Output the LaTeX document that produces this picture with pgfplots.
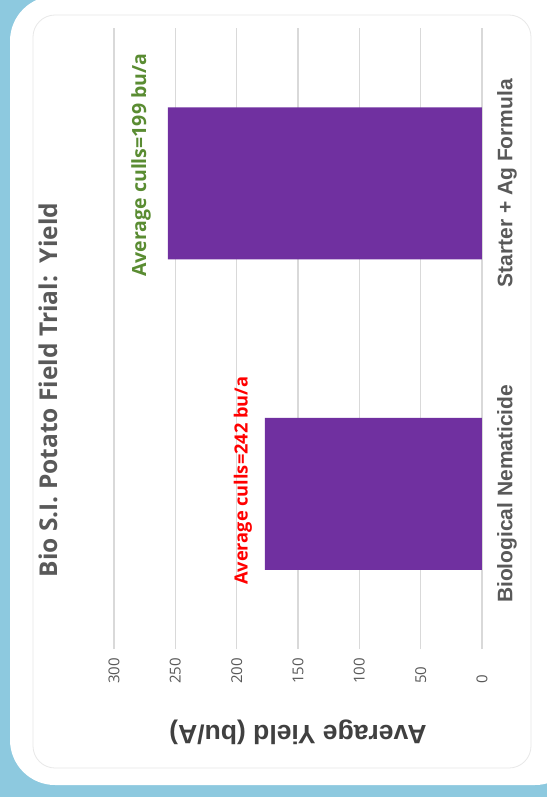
\documentclass[border=0pt]{standalone}
\usepackage{pgfplots}
\pgfplotsset{compat=1.18}
\usepackage{fontspec}
\setmainfont{Liberation Sans}
\newfontfamily\opensans{Open Sans}
\newfontfamily\arialbold{Liberation Sans Bold}
\definecolor{bgblue}{HTML}{8DC9DF}
\definecolor{barpurple}{HTML}{7030A0}
\definecolor{txtgray}{HTML}{595959}
\definecolor{lblgray}{HTML}{404040}
\definecolor{gridgray}{HTML}{D9D9D9}
\definecolor{cullgreen}{HTML}{5A8C32}
\newcommand{\catfont}{\arialbold\fontsize{21}{25}\selectfont}

\begin{document}
\begin{tikzpicture}
\useasboundingbox (0,0) rectangle (547pt,-797pt);
\begin{scope}
  \clip (0,0) rectangle (547pt,-797pt);
  \fill[bgblue] (0,0) rectangle (547pt,-797pt);
  \fill[white, rounded corners=45pt] (10pt,4pt) rectangle (580pt,-785pt);
\end{scope}
\draw[gray!18, line width=0.8pt, rounded corners=22pt] (33pt,-15pt) rectangle (531pt,-768pt);
\node[font=\opensans\bfseries\fontsize{24.5}{28}\selectfont, text=txtgray, rotate=90]
  at (48pt,-390pt) {Bio S.I. Potato Field Trial:\ \ Yield};

\begin{axis}[
  at={(114pt,-649pt)}, anchor=south west,
  scale only axis, width=368pt, height=621pt,
  xbar, bar width=152pt,
  x dir=reverse,
  xmin=0, xmax=300, ymin=-0.5, ymax=1.5,
  xtick={0,50,...,300},
  ytick={0,1},
  yticklabels={{\catfont Biological Nematicide}, {\catfont Starter + Ag Formula}},
  yticklabel pos=right,
  axis line style={draw=none},
  major tick length=0pt,
  xmajorgrids, grid style={gridgray, line width=1.5pt},
  /pgf/number format/assume math mode=true,
  xticklabel style={font=\opensans\fontsize{15}{18}\selectfont, text=txtgray,
    rotate=90, anchor=west, inner sep=0pt},
  xticklabel shift=35pt,
  yticklabel style={text=txtgray, rotate=90, anchor=north, inner sep=0pt},
  yticklabel shift=15pt,
  xlabel={Average Yield (bu/A)},
  xlabel style={font=\arialbold\fontsize{26.5}{30}\selectfont, text=lblgray, rotate=180,
    at={(axis description cs:0.5,-0.134)}, anchor=center},
]
\addplot[fill=barpurple, draw=none] coordinates {(177,0) (256,1)};
\node[font=\opensans\bfseries\fontsize{18.2}{21}\selectfont, text=red, rotate=90]
  at (axis cs:195,0.042) {Average culls=242 bu/a};
\node[font=\opensans\bfseries\fontsize{19.5}{22}\selectfont, text=cullgreen, rotate=90]
  at (axis cs:278,1.058) {Average culls=199 bu/a};
\end{axis}
\end{tikzpicture}
\end{document}
